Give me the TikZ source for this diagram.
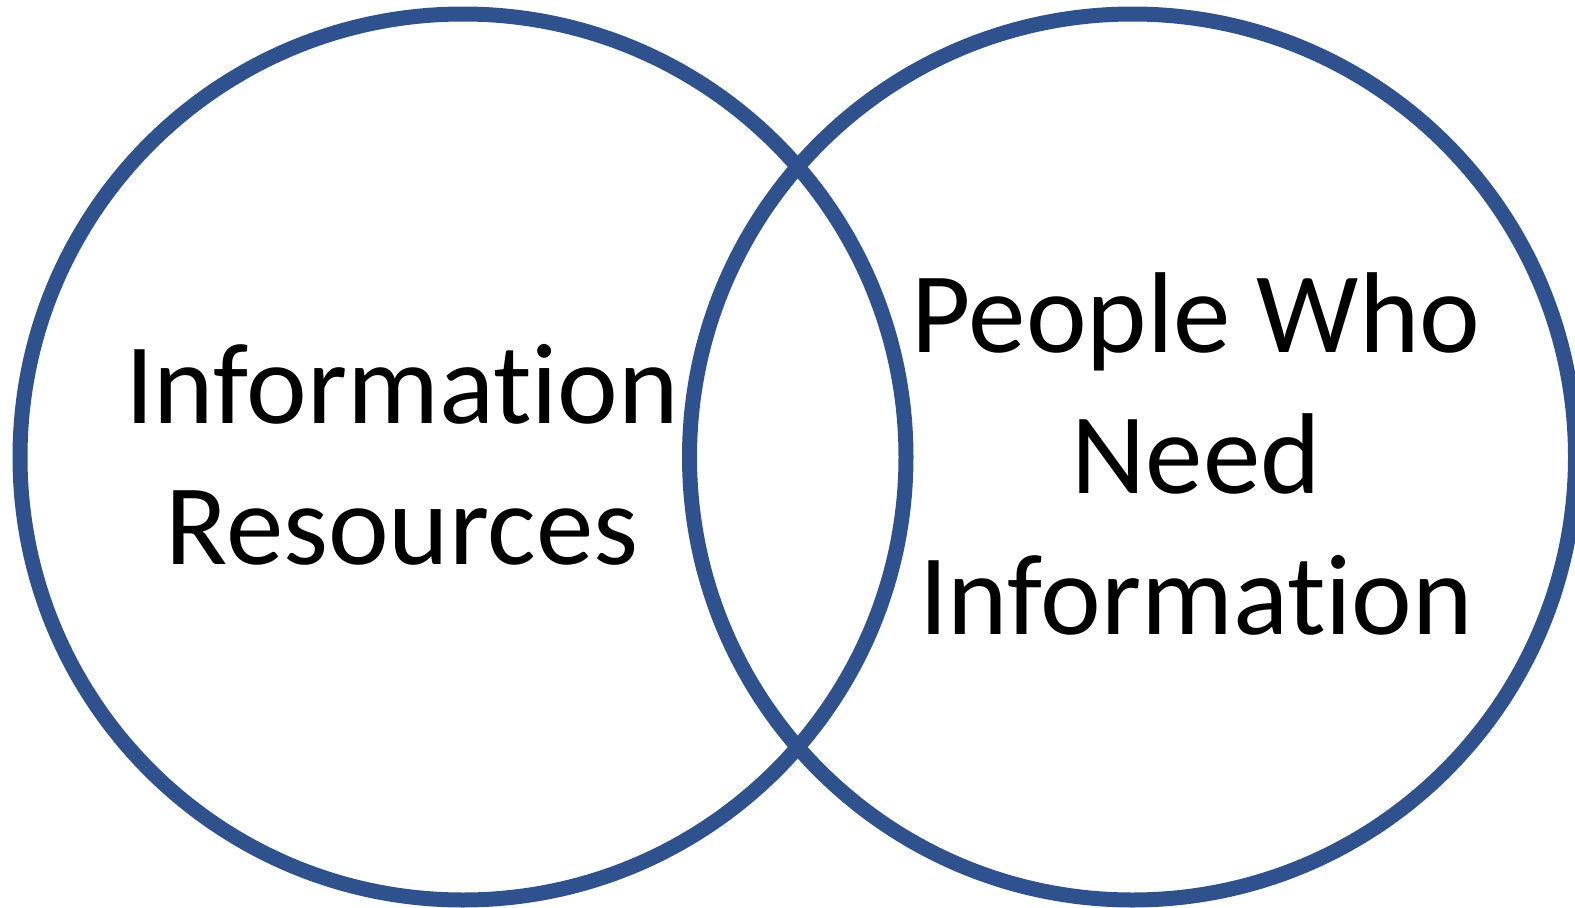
\documentclass[tikz,border=0pt]{standalone}
\usepackage{fontspec}
\setmainfont{Carlito}[Ligatures=NoCommon]
\definecolor{ringblue}{RGB}{47,82,143}
\begin{document}
\begin{tikzpicture}[x=1pt,y=-1pt,
  ring/.style={draw=ringblue,line width=15pt},
  label/.style={font=\fontsize{115}{141}\selectfont,align=center,inner sep=0pt,anchor=base}]
\useasboundingbox (0,0) rectangle (1575,908);
\node[ring,circle,minimum size=886pt,inner sep=0pt] (res) at (463,457) {};
\node[ring,circle,minimum size=886pt,inner sep=0pt] (ppl) at (1132.5,457) {};
% base anchor sits on the last line of each label
\node[label] (restext) at (402,564) {Information\\Resources};
\node[label] (ppltext) at (1196,634) {People Who\\Need\\Information};
\end{tikzpicture}
\end{document}
